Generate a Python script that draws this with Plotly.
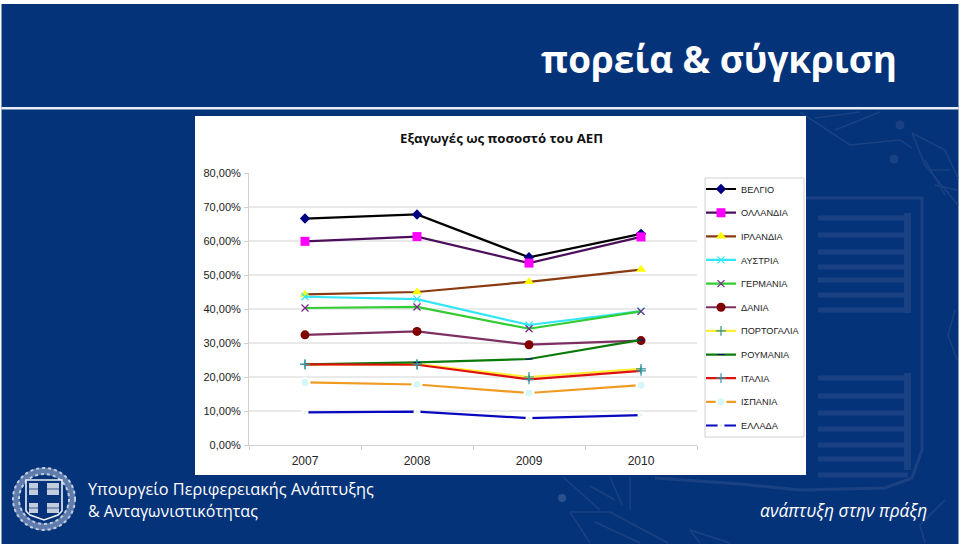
import plotly.graph_objects as go

years = ["2007", "2008", "2009", "2010"]
belgio = [0.666, 0.678, 0.552, 0.621]
ollandia = [0.599, 0.613, 0.535, 0.612]
irlandia = [0.443, 0.450, 0.480, 0.516]
afstria = [0.436, 0.429, 0.353, 0.394]
germania = [0.403, 0.406, 0.342, 0.393]
dania = [0.324, 0.334, 0.295, 0.307]
portogalia = [0.237, 0.238, 0.200, 0.224]
roumania = [0.237, 0.243, 0.253, 0.309]
italia = [0.237, 0.236, 0.193, 0.218]
ispania = [0.184, 0.178, 0.153, 0.176]
ellada = [0.096, 0.098, 0.079, 0.088]
y_ticks = [0, 0.1, 0.2, 0.3, 0.4, 0.5, 0.6, 0.7, 0.8]
grid_vals = [0.1, 0.2, 0.3, 0.4, 0.5, 0.6, 0.7]

NAVY = "#05337a"
FAINT = "#1a4283"
L, R, T, B = 249, 697, 173, 445
W, H = 960, 548
def px(x): return (x - L) / (R - L)
def py(y): return (B - y) / (B - T)

series = [
    ("ΒΕΛΓΙΟ", belgio, "#000000", dict(symbol="diamond", size=8, color="#000080")),
    ("ΟΛΛΑΝΔΙΑ", ollandia, "#4b0f5c", dict(symbol="square", size=9, color="#ff00ff")),
    ("ΙΡΛΑΝΔΙΑ", irlandia, "#8a3a10", dict(symbol="triangle-up", size=9, color="#ffff00")),
    ("ΑΥΣΤΡΙΑ", afstria, "#33e6f5", dict(symbol="x-thin", size=7, color="#33e6f5", line=dict(width=1.2, color="#33e6f5"))),
    ("ΓΕΡΜΑΝΙΑ", germania, "#33cc33", dict(symbol="x-thin", size=7, color="#7a2a8a", line=dict(width=1.3, color="#7a2a8a"))),
    ("ΔΑΝΙΑ", dania, "#7e2f62", dict(symbol="circle", size=9, color="#800000")),
    ("ΠΟΡΤΟΓΑΛΙΑ", portogalia, "#ffee33", dict(symbol="cross-thin", size=7, color="#2f8f8f", line=dict(width=1.2, color="#2f8f8f"))),
    ("ΡΟΥΜΑΝΙΑ", roumania, "#0a7a0a", dict(symbol="line-ew", size=5, color="#000080", line=dict(width=1, color="#000080"))),
    ("ΙΤΑΛΙΑ", italia, "#e01010", dict(symbol="cross-thin", size=7, color="#2a9aa8", line=dict(width=1.2, color="#2a9aa8"))),
    ("ΙΣΠΑΝΙΑ", ispania, "#f09a20", dict(symbol="circle", size=9, color="#d6f7fa", line=dict(width=2, color="#ffffff"))),
    ("ΕΛΛΑΔΑ", ellada, "#0808c0", dict(symbol="circle", size=5, color="#e0f5e8", line=dict(width=2, color="#ffffff"))),
]

fig = go.Figure()
for name, vals, col, mk in series:
    fig.add_trace(go.Scatter(x=years, y=vals, name=name, mode="lines+markers",
                             line=dict(color=col, width=2.2), marker=mk, legendgroup=name,
                             hoverinfo="skip", cliponaxis=False))

def rect(x0, y0, x1, y1, fill):
    return dict(type="rect", xref="paper", yref="paper", x0=px(x0), x1=px(x1), y0=py(y0), y1=py(y1),
                fillcolor=fill, line=dict(width=0), layer="below")

def pth(points, fill=None, lc=None, lw=0, close=True):
    d = "M " + " L ".join(f"{px(a):.5f} {py(b):.5f}" for a, b in points) + (" Z" if close else "")
    return dict(type="path", xref="paper", yref="paper", path=d,
                fillcolor=fill if fill else "rgba(0,0,0,0)",
                line=dict(color=lc or fill, width=lw), layer="below")

def dot(cx, cy, r, fill):
    return dict(type="circle", xref="paper", yref="paper", x0=px(cx - r), x1=px(cx + r),
                y0=py(cy + r), y1=py(cy - r), fillcolor=fill, line=dict(width=0), layer="below")

shapes = [
    rect(0, 0, 960, 548, "#ffffff"),
    rect(1.5, 4, 958.5, 544, NAVY),
]

# faint emblem behind the slide
for y0 in [218, 235, 252, 267, 280, 295, 310, 378, 396, 413, 429, 445, 459, 475]:
    shapes.append(rect(818, y0 - 2.5, 908, y0 + 2.5, FAINT))
shapes.append(rect(904, 213, 911, 313, FAINT))
shapes.append(rect(904, 373, 911, 470, FAINT))
shapes.append(pth([(700, 198), (922, 198), (922, 450), (912, 478), (885, 488), (800, 490), (740, 484), (655, 478)],
                  None, FAINT, 3, close=False))
# leaves
for leaf in [
    [(912, 133), (925, 165), (958, 205)], [(912, 133), (945, 150), (958, 178)],
    [(925, 160), (945, 195)], [(930, 170), (950, 170)], [(935, 185), (957, 190)],
    [(800, 112), (850, 145), (900, 140), (912, 148)], [(815, 118), (860, 112)], [(835, 130), (880, 112)],
    [(570, 512), (610, 512), (668, 543)], [(570, 512), (590, 543)], [(595, 522), (640, 543)],
    [(563, 477), (600, 510)], [(630, 477), (630, 510)], [(590, 486), (615, 500)], [(610, 477), (622, 505)],
    [(690, 530), (730, 543)], [(690, 530), (700, 543)],
    [(945, 500), (920, 525), (925, 543)],
    [(955, 310), (948, 335), (957, 360)],
]:
    shapes.append(pth(leaf, None, FAINT, 1.5, close=False))
shapes.append(dot(900, 125, 4.5, FAINT))
shapes.append(dot(894, 159, 4.5, FAINT))
shapes.append(dot(562, 498, 4, "#2a5090"))

shapes += [
    rect(1.5, 107, 958.5, 109.5, "#e8edf5"),
    rect(195, 116, 806, 475, "#ffffff"),
]
for g in grid_vals:
    shapes.append(dict(type="line", xref="paper", yref="y", x0=0, x1=1, y0=g, y1=g,
                       line=dict(color="#d4d4d4", width=1), layer="below"))
# legend frame
shapes.append(dict(type="rect", xref="paper", yref="paper", x0=px(705), x1=px(804), y0=py(178), y1=py(437),
                   fillcolor="#ffffff", line=dict(color="#d0d0d0", width=1), layer="below"))

# crest
shapes.append(dict(type="circle", xref="paper", yref="paper", x0=px(16), x1=px(72), y0=py(527), y1=py(471),
                   line=dict(color="#5f7cac", width=7), layer="below"))
for r, w, c in [(31, 2, "#c3cde0"), (25, 2, "#c3cde0")]:
    shapes.append(dict(type="circle", xref="paper", yref="paper", x0=px(44 - r), x1=px(44 + r),
                       y0=py(499 + r), y1=py(499 - r), line=dict(color=c, width=w, dash="dot"),
                       layer="below"))
shapes.append(pth([(26, 480), (62, 480), (62, 511), (58, 515), (44, 520), (30, 515), (26, 511)], NAVY, "#eef1f6", 1.6))
for qx0, qx1 in [(29, 38), (47, 59)]:
    for qy0, qy1 in [(483, 495), (503, 513)]:
        shapes.append(rect(qx0, qy0, qx1, qy1, "#c3ccdc"))
        mid = (qy0 + qy1) / 2
        shapes.append(rect(qx0, mid - 1, qx1, mid + 1, "#7f92b4"))

def note(x, y, text, size, color, family, anchor="left", bold=False, italic=False):
    t = f"<b>{text}</b>" if bold else text
    t = f"<i>{t}</i>" if italic else t
    return dict(xref="paper", yref="paper", x=px(x), y=py(y), text=t, showarrow=False,
                xanchor=anchor, yanchor="middle", font=dict(size=size, color=color, family=family))

annotations = [
    note(719, 59, "πορεία &amp; σύγκριση", 36.8, "#ffffff", "Open Sans", "center", bold=True),
    note(501, 138, "Εξαγωγές ως ποσοστό του ΑΕΠ", 13.2, "#111111", "Open Sans", "center", bold=True),
    note(86, 489, "Υπουργείο Περιφερειακής Ανάπτυξης", 16.3, "#ffffff", "Open Sans"),
    note(86, 511, "&amp; Ανταγωνιστικότητας", 16, "#ffffff", "Open Sans"),
    note(843, 510, "ανάπτυξη στην πράξη", 17.4, "#ffffff", "Open Sans", "center", italic=True),
]

fig.update_layout(
    width=W, height=H, autosize=False,
    margin=dict(l=L, r=W - R, t=T, b=H - B, pad=0),
    paper_bgcolor=NAVY, plot_bgcolor="rgba(0,0,0,0)",
    separators=",.",
    font=dict(family="Liberation Sans", color="#222222", size=12),
    showlegend=True,
    legend=dict(x=px(701), y=py(174.5), xanchor="left", yanchor="top",
                bgcolor="rgba(0,0,0,0)", borderwidth=0, maxheight=320,
                font=dict(size=9.2, family="Liberation Sans", color="#222222"),
                tracegroupgap=4.65, itemwidth=30, entrywidth=60, entrywidthmode="pixels",
                itemclick=False, itemdoubleclick=False),
    xaxis=dict(type="category", categoryorder="array", categoryarray=years, tickmode="array",
               tickvals=years, ticktext=years, range=[-0.5, 3.5], showgrid=False, showline=True,
               linecolor="#d0d0d0", linewidth=1, ticks="outside", ticklen=4, tickcolor="#d0d0d0",
               tickson="boundaries", tickfont=dict(size=12, color="#222222"), zeroline=False,
               ticklabelstandoff=5, fixedrange=True),
    yaxis=dict(range=[0, 0.8], tickmode="array", tickvals=y_ticks, tickformat=".2%", showgrid=False,
               showline=True, linecolor="#d0d0d0", linewidth=1, ticks="outside", ticklen=4,
               tickcolor="#d0d0d0", tickfont=dict(size=11, color="#222222"), zeroline=False,
               ticklabelstandoff=1, fixedrange=True),
    shapes=shapes,
    annotations=annotations,
)
fig.write_html("out.html", config=dict(displayModeBar=False),
               post_script="document.body.style.margin='0';document.body.style.overflow='hidden';")
